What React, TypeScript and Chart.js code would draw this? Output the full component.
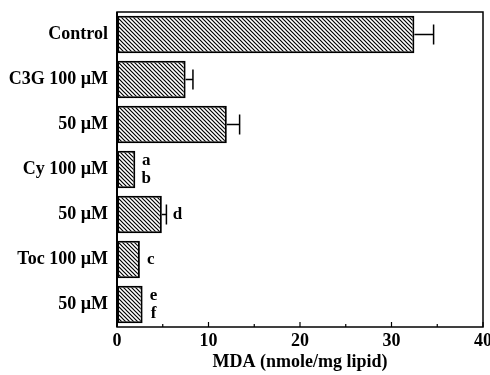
import React, { useEffect, useRef } from "react";
import { Chart, registerables } from "chart.js";

Chart.register(...registerables);

const categories = ["Control", "C3G 100 \u00b5M", "50 \u00b5M", "Cy 100 \u00b5M", "50 \u00b5M", "Toc 100 \u00b5M", "50 \u00b5M"];
const mdaValues = [32.5, 7.5, 12.0, 2.0, 4.9, 2.5, 2.8];
const errorTops: (number | null)[] = [34.6, 8.3, 13.4, null, 5.4, null, null];
const letters: string[][] = [[], [], [], ["a", "b"], ["d"], ["c"], ["e", "f"]];
const xTicks = [0, 10, 20, 30, 40];
const xTitle = "MDA (nmole/mg lipid)";

const FONT = "'Liberation Serif', 'Times New Roman', serif";

function makeHatch(): CanvasPattern | string {
  const c = document.createElement("canvas");
  const s = 4;
  c.width = s;
  c.height = s;
  const g = c.getContext("2d");
  if (!g) return "#555";
  g.fillStyle = "#fff";
  g.fillRect(0, 0, s, s);
  g.strokeStyle = "#000";
  g.lineWidth = 1.2;
  g.beginPath();
  g.moveTo(-1, -1);
  g.lineTo(s + 1, s + 1);
  g.moveTo(-1, s - 1);
  g.lineTo(1, s + 1);
  g.moveTo(s - 1, -1);
  g.lineTo(s + 1, 1);
  g.stroke();
  const p = g.createPattern(c, "repeat");
  return p || "#555";
}

const overlay = {
  id: "overlay",
  afterDatasetsDraw(chart: any) {
    const ctx = chart.ctx;
    const xs = chart.scales.x;
    const ys = chart.scales.y;
    const area = chart.chartArea;
    const meta = chart.getDatasetMeta(0);
    ctx.save();
    ctx.strokeStyle = "#000";
    ctx.fillStyle = "#000";
    ctx.lineWidth = 1.5;
    meta.data.forEach((bar: any, i: number) => {
      const e = errorTops[i];
      if (e == null) return;
      const x0 = xs.getPixelForValue(mdaValues[i]);
      const x1 = xs.getPixelForValue(e);
      const y = bar.y;
      ctx.beginPath();
      ctx.moveTo(x0, y);
      ctx.lineTo(x1, y);
      ctx.moveTo(x1, y - 10);
      ctx.lineTo(x1, y + 10);
      ctx.stroke();
    });
    ctx.font = `bold 17px ${FONT}`;
    ctx.textAlign = "center";
    ctx.textBaseline = "middle";
    meta.data.forEach((bar: any, i: number) => {
      const l = letters[i];
      if (!l.length) return;
      const end = Math.max(mdaValues[i], errorTops[i] ?? 0);
      const x = xs.getPixelForValue(end) + 11;
      if (l.length === 1) {
        ctx.fillText(l[0], x, bar.y);
      } else {
        ctx.fillText(l[0], x, bar.y - 9);
        ctx.fillText(l[1], x, bar.y + 9);
      }
    });
    // frame
    ctx.lineWidth = 1.5;
    ctx.strokeRect(area.left, area.top, area.right - area.left, area.bottom - area.top);
    ctx.lineWidth = 2;
    ctx.beginPath();
    ctx.moveTo(area.left, area.top);
    ctx.lineTo(area.left, area.bottom);
    ctx.stroke();
    // inward ticks
    ctx.lineWidth = 1.2;
    for (let v = 0; v <= 40; v += 5) {
      const x = xs.getPixelForValue(v);
      const len = v % 10 === 0 ? 5 : 3;
      ctx.beginPath();
      ctx.moveTo(x, area.bottom);
      ctx.lineTo(x, area.bottom - len);
      ctx.stroke();
    }
    // tick labels
    ctx.font = `bold 18px ${FONT}`;
    ctx.textAlign = "center";
    ctx.textBaseline = "middle";
    xTicks.forEach((v) => {
      ctx.fillText(String(v), xs.getPixelForValue(v), area.bottom + 14);
    });
    ctx.fillText(xTitle, (area.left + area.right) / 2, area.bottom + 35);
    ctx.textAlign = "right";
    categories.forEach((c, i) => {
      ctx.fillText(c, area.left - 9, ys.getPixelForValue(i));
    });
    ctx.restore();
  },
};

export default function App() {
  const ref = useRef<HTMLCanvasElement>(null);
  useEffect(() => {
    if (!ref.current) return;
    const hatch = makeHatch();
    const chart = new Chart(ref.current, {
      type: "bar",
      data: {
        labels: categories,
        datasets: [
          {
            data: mdaValues,
            backgroundColor: hatch as any,
            borderColor: "#000",
            borderWidth: 2,
            borderSkipped: false,
            barPercentage: 0.83,
            categoryPercentage: 1,
          },
        ],
      },
      options: {
        indexAxis: "y",
        animation: false,
        responsive: false,
        layout: { padding: { left: 0, right: 7, top: 12, bottom: 0 } },
        plugins: { legend: { display: false }, tooltip: { enabled: false } },
        scales: {
          x: {
            min: 0,
            max: 40,
            afterFit: (s: any) => {
              s.height = 48;
            },
            afterBuildTicks: (s: any) => {
              s.ticks = xTicks.map((v) => ({ value: v }));
            },
            grid: { display: false, drawTicks: false },
            border: { display: false },
            ticks: { display: false },
          },
          y: {
            afterFit: (s: any) => {
              s.width = 117;
            },
            grid: { display: false, drawTicks: false },
            border: { display: false },
            ticks: { display: false },
          },
        },
      },
      plugins: [overlay],
    });
    return () => chart.destroy();
  }, []);
  return (
    <div style={{ position: "fixed", left: 0, top: 0, width: 490, height: 375, background: "#fff" }}>
      <canvas ref={ref} width={490} height={375} />
    </div>
  );
}
